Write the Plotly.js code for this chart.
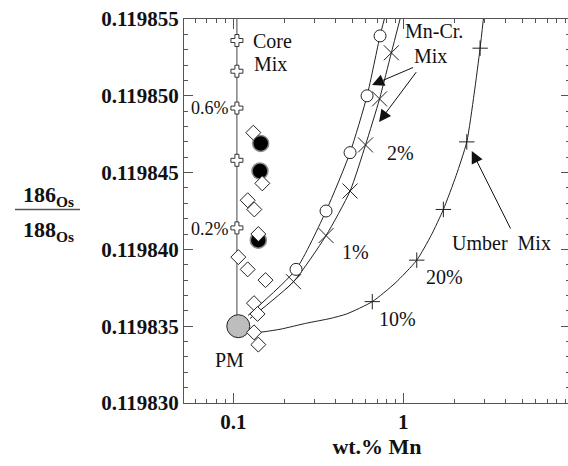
<!DOCTYPE html>
<html>
<head>
<meta charset="utf-8">
<script src="https://cdn.plot.ly/plotly-3.0.1.min.js"></script>
<style>html,body{margin:0;padding:0;overflow:hidden;background:#fff;}#chart{width:570px;height:466px;}</style>
</head>
<body>
<div id="chart"></div>
<script>
// ---- data ----
const coreLineX = [0.105, 0.105];
const coreLineY = [0.119835, 0.119855];
const coreMarkX = [0.105, 0.105, 0.105, 0.105, 0.105];
const coreMarkY = [0.1198536, 0.1198516, 0.1198492, 0.1198458, 0.1198414];

const mnCrCircLineX = [0.1220, 0.2338, 0.3510, 0.4859, 0.6116, 0.7293, 0.7730];
const mnCrCircLineY = [0.1198357, 0.1198387, 0.1198425, 0.1198463, 0.1198500, 0.1198539, 0.119855];
const mnCrCircX = [0.2338, 0.3510, 0.4859, 0.6116, 0.7293];
const mnCrCircY = [0.1198387, 0.1198425, 0.1198463, 0.1198500, 0.1198539];

const mnCrXLineX = [0.1254, 0.2259, 0.3510, 0.4859, 0.5992, 0.7244, 0.8500, 0.9563];
const mnCrXLineY = [0.1198355, 0.1198379, 0.1198409, 0.1198438, 0.1198468, 0.1198498, 0.1198528, 0.119855];
const mnCrXX = [0.2259, 0.3510, 0.4859, 0.5992, 0.7244, 0.8500];
const mnCrXY = [0.1198379, 0.1198409, 0.1198438, 0.1198468, 0.1198498, 0.1198528];

const umberLineX = [0.1435, 0.1883, 0.2703, 0.3705, 0.4647, 0.6566, 0.8937, 1.1989, 1.4553, 1.7192, 2.042, 2.360, 2.606, 2.827, 2.955];
const umberLineY = [0.1198346, 0.1198348, 0.1198352, 0.1198355, 0.1198358, 0.1198366, 0.1198378, 0.1198393, 0.1198409, 0.1198426, 0.1198448, 0.1198470, 0.1198501, 0.1198531, 0.119855];
const umberMarkX = [0.6566, 1.1989, 1.7192, 2.360, 2.827];
const umberMarkY = [0.1198366, 0.1198393, 0.1198426, 0.1198470, 0.1198531];

const pmX = [0.107];
const pmY = [0.119835];

const blackX = [0.1449, 0.1435, 0.1403];
const blackY = [0.1198469, 0.1198451, 0.1198406];

const diamondX = [0.1311, 0.1481, 0.1215, 0.1329, 0.1403, 0.1070, 0.1215, 0.1547, 0.1323, 0.1388, 0.1323, 0.1403];
const diamondY = [0.1198476, 0.1198443, 0.1198432, 0.1198426, 0.1198410, 0.1198395, 0.1198387, 0.1198380, 0.1198365, 0.1198358, 0.1198346, 0.1198338];

const xMajorTicks = [0.1, 1];
const xMajorLabels = ['0.1', '1'];
const xMinorTicks = [0.06, 0.07, 0.08, 0.09, 0.2, 0.3, 0.4, 0.5, 0.6, 0.7, 0.8, 0.9, 2, 3, 4, 5, 6, 7, 8, 9];

// ---- chart ----
const SERIF = 'Liberation Serif, Times New Roman, serif';
const lineStyle = {color: '#222', width: 1};

const traces = [
  {x: coreLineX, y: coreLineY, mode: 'lines', line: {color: '#444', width: 1}, hoverinfo: 'skip'},
  {x: coreMarkX, y: coreMarkY, mode: 'markers', marker: {symbol: 'cross', size: 10, color: '#fff', line: {color: '#333', width: 1}}},
  {x: mnCrCircLineX, y: mnCrCircLineY, mode: 'lines', line: Object.assign({shape: 'spline', smoothing: 0.6}, lineStyle)},
  {x: mnCrXLineX, y: mnCrXLineY, mode: 'lines', line: Object.assign({shape: 'spline', smoothing: 0.6}, lineStyle)},
  {x: umberLineX, y: umberLineY, mode: 'lines', line: Object.assign({shape: 'spline', smoothing: 0.6}, lineStyle)},
  {x: mnCrCircX, y: mnCrCircY, mode: 'markers', marker: {symbol: 'circle', size: 12, color: '#fff', line: {color: '#222', width: 1}}},
  {x: mnCrXX, y: mnCrXY, mode: 'markers', marker: {symbol: 'x-thin', size: 15, line: {color: '#222', width: 1}}},
  {x: umberMarkX, y: umberMarkY, mode: 'markers', marker: {symbol: 'cross-thin', size: 11, line: {color: '#222', width: 1}}},
  {x: pmX, y: pmY, mode: 'markers', marker: {symbol: 'circle', size: 23, color: '#bdbdbd', line: {color: '#222', width: 1}}},
  {x: blackX, y: blackY, mode: 'markers', marker: {symbol: 'circle', size: 16, color: '#000', line: {color: '#888', width: 1.5}}},
  {x: diamondX, y: diamondY, mode: 'markers', marker: {symbol: 'diamond', size: 11.5, color: '#fff', line: {color: '#222', width: 1}}}
];

function txt(text, x, y, opts) {
  return Object.assign({text: text, x: x, y: y, xref: 'x', yref: 'y', showarrow: false,
    font: {family: SERIF, size: 20, color: '#111'}}, opts || {});
}
function arrow(x, y, ax, ay) {
  return {text: ' ', x: x, y: y, ax: ax, ay: ay, xref: 'x', yref: 'y', axref: 'x', ayref: 'y',
    showarrow: true, arrowhead: 2, arrowsize: 2.4, arrowwidth: 1, arrowcolor: '#111',
    font: {family: SERIF, size: 2, color: '#fff'}};
}

const annotations = [
  txt('Core', -0.7682, 0.1198536),
  txt('Mix', -0.7841, 0.1198521),
  txt('0.6%', -1.0135, 0.1198492, {xanchor: 'right', font: {family: SERIF, size: 18, color: '#111'}}),
  txt('0.2%', -1.0135, 0.1198413, {xanchor: 'right', font: {family: SERIF, size: 18, color: '#111'}}),
  txt('PM', -1.0253, 0.1198328),
  txt('Mn-Cr.', 0.1806, 0.1198542),
  txt('Mix', 0.1571, 0.1198526),
  txt('2%', -0.0194, 0.1198463),
  txt('1%', -0.2841, 0.1198398),
  txt('10%', -0.0341, 0.1198355),
  txt('20%', 0.2394, 0.1198382),
  txt('Umber&nbsp; Mix', 0.5747, 0.1198404),
  arrow(-0.1841, 0.1198507, 0.0688, 0.1198519),
  arrow(-0.1429, 0.1198483, 0.0865, 0.1198517),
  arrow(0.4024, 0.1198464, 0.6376, 0.1198412),
  {text: '<b>186<sub>Os</sub></b>', xref: 'paper', yref: 'paper', x: -0.3523, y: 0.539,
    xanchor: 'center', yanchor: 'middle', showarrow: false,
    font: {family: SERIF, size: 22, color: '#111'}},
  {text: '<b>188<sub>Os</sub></b>', xref: 'paper', yref: 'paper', x: -0.3523, y: 0.448,
    xanchor: 'center', yanchor: 'middle', showarrow: false,
    font: {family: SERIF, size: 22, color: '#111'}}
];

const layout = {
  width: 570, height: 466,
  margin: {l: 184, r: 0, t: 19, b: 63, pad: 0},
  paper_bgcolor: '#fff', plot_bgcolor: '#fff',
  showlegend: false,
  font: {family: SERIF, color: '#111'},
  xaxis: {
    type: 'log', range: [-1.29, 0.98],
    showgrid: false, zeroline: false,
    showline: true, linecolor: '#555', linewidth: 1, mirror: 'ticks',
    tickmode: 'array', tickvals: xMajorTicks, ticktext: xMajorLabels,
    ticks: 'inside', ticklen: 10, tickcolor: '#555', tickwidth: 1,
    tickfont: {family: SERIF, size: 21, color: '#111', weight: 'bold'},
    minor: {tickmode: 'array', tickvals: xMinorTicks, ticks: 'inside', ticklen: 4, tickcolor: '#555', tickwidth: 1, showgrid: false},
    title: {text: '<b>wt.% Mn</b>', font: {family: SERIF, size: 22, color: '#111'}, standoff: 3}
  },
  yaxis: {
    range: [0.119830, 0.119855],
    showgrid: false, zeroline: false,
    showline: true, linecolor: '#555', linewidth: 1, mirror: 'ticks',
    tick0: 0.119830, dtick: 0.000005, tickformat: '.6f',
    ticks: 'inside', ticklen: 9, tickcolor: '#555', tickwidth: 1,
    tickfont: {family: SERIF, size: 21, color: '#111', weight: 'bold'},
    minor: {dtick: 0.000001, ticks: 'inside', ticklen: 4, tickcolor: '#555', tickwidth: 1, showgrid: false}
  },
  shapes: [
    {type: 'line', xref: 'paper', yref: 'paper', x0: -0.4378, x1: -0.2694, y0: 0.5039, y1: 0.5039,
      line: {color: '#555', width: 1.5}}
  ],
  annotations: annotations
};

Plotly.newPlot('chart', traces, layout, {staticPlot: true, displayModeBar: false});
</script>
</body>
</html>
